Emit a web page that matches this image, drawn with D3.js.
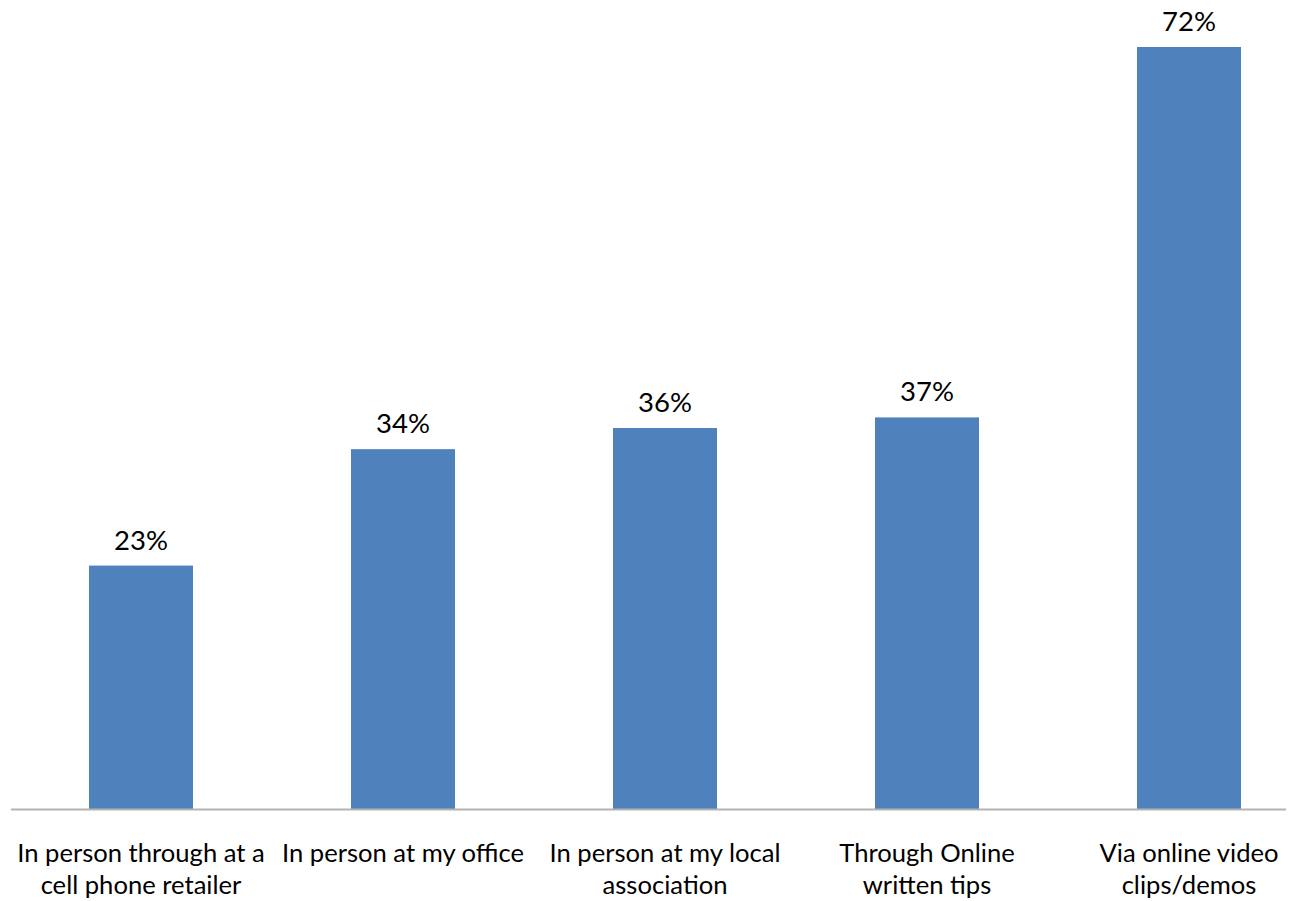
<!DOCTYPE html>
<html>
<head>
<meta charset="utf-8">
<script src="https://cdn.jsdelivr.net/npm/d3@7"></script>
<style>
  html, body { margin: 0; padding: 0; background: #ffffff; }
  svg { display: block; }
  text { font-family: Lato, "Open Sans", sans-serif; fill: #000; }
</style>
</head>
<body>
<svg id="chart" width="1291" height="901"></svg>
<script>
// Share of respondents by preferred way of learning
const categories = [
  ["In person through at a", "cell phone retailer"],
  ["In person at my office"],
  ["In person at my local", "association"],
  ["Through Online", "written tips"],
  ["Via online video", "clips/demos"]
];
const values = [0.23, 0.34, 0.36, 0.37, 0.72];
const valueLabels = ["23%", "34%", "36%", "37%", "72%"];

const svg = d3.select("#chart");
const baseline = 809;

const x = d3.scaleBand()
  .domain(d3.range(values.length))
  .range([10, 1320])
  .paddingInner(0.603)
  .paddingOuter(0.3015);

const y = d3.scaleLinear()
  .domain([0, 0.72])
  .range([baseline, 47]);

// bars
svg.append("g")
  .selectAll("rect")
  .data(values)
  .join("rect")
  .attr("x", (d, i) => x(i))
  .attr("width", x.bandwidth())
  .attr("y", d => y(d))
  .attr("height", d => baseline - y(d))
  .attr("fill", "#4F81BD");

// category axis line
svg.append("line")
  .attr("x1", 11).attr("x2", 1286)
  .attr("y1", baseline + 0.5).attr("y2", baseline + 0.5)
  .attr("stroke", "#b3b3b3")
  .attr("stroke-width", 2);

// value labels above the bars
svg.append("g")
  .selectAll("text")
  .data(values)
  .join("text")
  .attr("x", (d, i) => x(i) + x.bandwidth() / 2)
  .attr("y", d => y(d) - 16)
  .attr("text-anchor", "middle")
  .style("font-size", "27.5px")
  .text((d, i) => valueLabels[i]);

// category labels, wrapped onto two lines
const cat = svg.append("g")
  .selectAll("text")
  .data(categories)
  .join("text")
  .attr("text-anchor", "middle")
  .attr("x", (d, i) => x(i) + x.bandwidth() / 2)
  .attr("y", 862)
  .style("font-size", "25.6px");

cat.selectAll("tspan")
  .data(d => d)
  .join("tspan")
  .attr("x", function () { return this.parentNode.getAttribute("x"); })
  .attr("dy", (d, j) => j === 0 ? 0 : 32)
  .text(d => d);
</script>
</body>
</html>
